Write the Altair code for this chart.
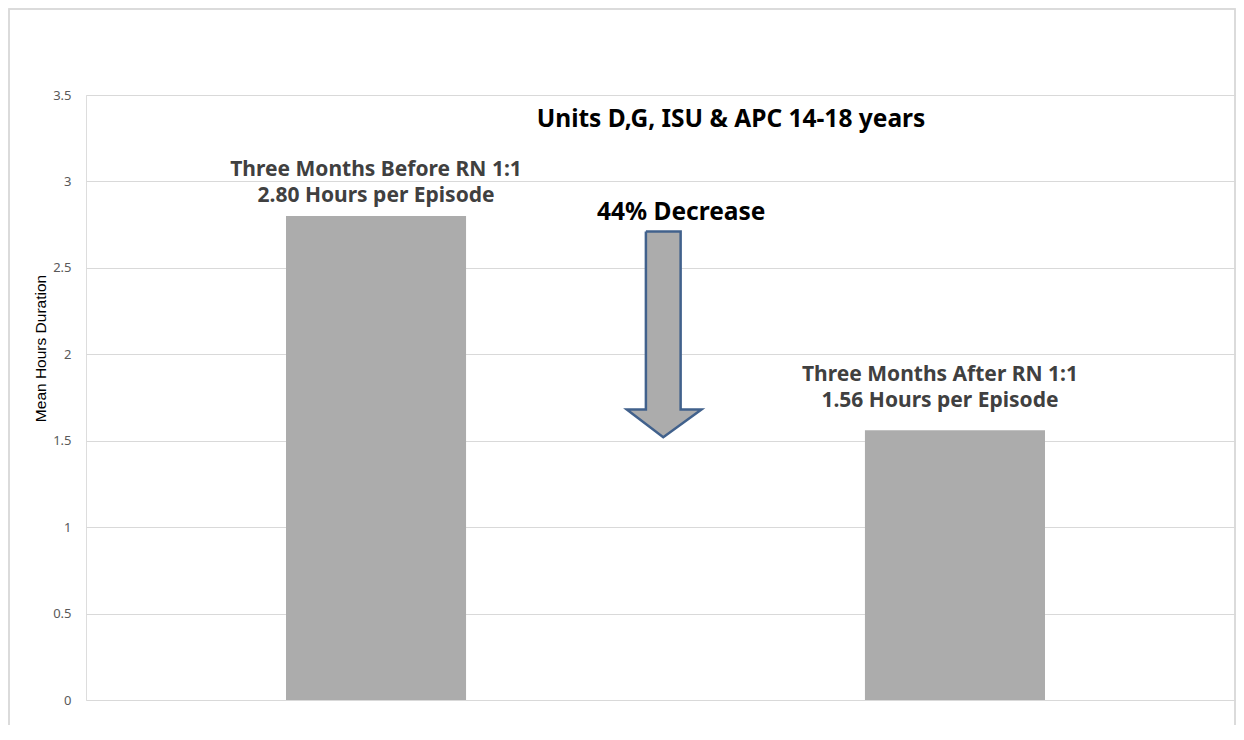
import altair as alt
import pandas as pd

# ---- data ----
categories = ["Three Months Before RN 1:1", "Three Months After RN 1:1"]
values = [2.80, 1.56]
y_ticks = [0, 0.5, 1, 1.5, 2, 2.5, 3, 3.5]

chart_title = "Units D,G, ISU & APC 14-18 years"
decrease_label = "44% Decrease"

# arrow outline (x in category-step units, y in hours)
arrow_x = [0.967, 1.027, 1.027, 1.063, 0.997, 0.934, 0.967, 0.967]
arrow_y = [2.71, 2.71, 1.68, 1.68, 1.52, 1.68, 1.68, 2.71]

W, H = 1150, 605
FILL = "#acacac"
LABEL_COLOR = "#404040"
FONT = "Noto Sans"

bars_df = pd.DataFrame({
    "category": categories,
    "value": values,
    "label": [f"{c}\n{v:.2f} Hours per Episode" for c, v in zip(categories, values)],
})
arrow_df = pd.DataFrame({"ax": arrow_x, "ay": arrow_y, "order": list(range(len(arrow_x)))})
notes_df = pd.DataFrame({
    "nx": [1.114, 1.028],
    "ny": [3.355, 2.817],
    "text": [chart_title, decrease_label],
})

xband = alt.X("category:N", sort=categories,
              scale=alt.Scale(domain=categories, paddingInner=0.689,
                              paddingOuter=0.3377, align=0.5115),
              axis=None)
yscale = alt.Scale(domain=[0, 3.5], nice=False)

bars = alt.Chart(bars_df).mark_bar(color=FILL).encode(
    x=xband,
    y=alt.Y("value:Q", scale=yscale,
            axis=alt.Axis(values=y_ticks, format="~g", title="Mean Hours Duration",
                          grid=True, gridColor="#d9d9d9", gridWidth=1,
                          domain=False, ticks=False, labelPadding=15,
                          labelColor="#595959", labelFontSize=13, labelFont=FONT,
                          titleFont="Liberation Sans", titleFontSize=15.5,
                          titleFontWeight="normal", titleColor="#000000",
                          titleX=-46, titleY=253, titleBaseline="middle", titleAngle=-90)),
)

def bar_label(cat, dy, dx):
    return alt.Chart(bars_df).transform_filter(
        alt.datum.category == cat
    ).mark_text(font=FONT, fontWeight="bold", fontSize=21, color=LABEL_COLOR,
                baseline="bottom", align="center", lineBreak="\n", lineHeight=26,
                dy=dy, dx=dx).encode(
        x=xband,
        y=alt.Y("value:Q", scale=yscale),
        text="label:N",
    )

lab1 = bar_label(categories[0], -36, 0)
lab2 = bar_label(categories[1], -45, -15)

xq = alt.Scale(domain=[0, W / 579], nice=False, zero=False)

arrow = alt.Chart(arrow_df).mark_line(fill=FILL, stroke="#41618c", strokeWidth=2.5,
                                      strokeJoin="miter").encode(
    x=alt.X("ax:Q", scale=xq, axis=None),
    y=alt.Y("ay:Q", scale=yscale),
    order="order:Q",
)

notes = alt.Chart(notes_df).mark_text(font=FONT, fontWeight="bold", fontSize=24.5,
                                      color="#000000", align="center", baseline="middle").encode(
    x=alt.X("nx:Q", scale=xq, axis=None),
    y=alt.Y("ny:Q", scale=yscale),
    text="text:N",
)

frame = alt.Chart(notes_df).mark_rect(fillOpacity=0, stroke="#d9d9d9", strokeWidth=1.5).encode(
    x=alt.value(-77), x2=alt.value(W - 1), y=alt.value(-86), y2=alt.value(660),
)

chart = alt.layer(
    alt.layer(bars, lab1, lab2),
    alt.layer(arrow, notes, frame),
).resolve_scale(x="independent").properties(
    width=W, height=H,
    padding={"left": 78, "top": 87, "right": 0, "bottom": 25},
    autosize=alt.AutoSizeParams(type="none"),
).configure_view(stroke=None).configure(background="white")

chart.save("out.html", embed_options={"renderer": "svg", "actions": False})
